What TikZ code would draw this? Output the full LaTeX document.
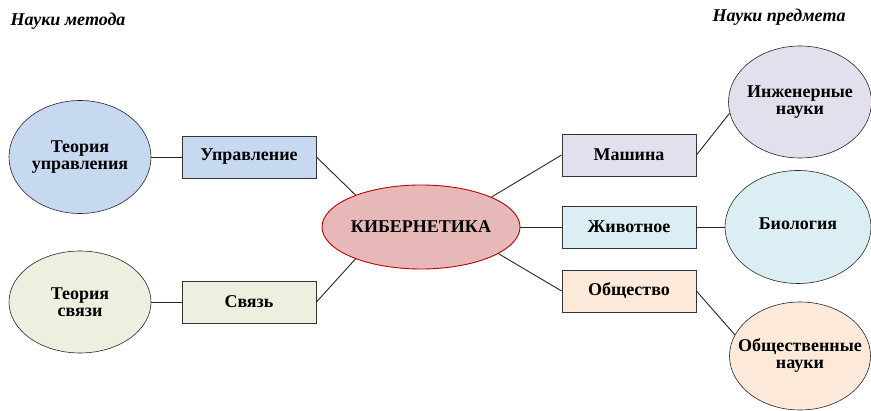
\documentclass[tikz,border=0pt]{standalone}
\usepackage{fontspec}
\setmainfont{Liberation Serif}
\usetikzlibrary{shapes.geometric}

\definecolor{blueF}{HTML}{C6D9F1}
\definecolor{greenF}{HTML}{EBF1DE}
\definecolor{redF}{HTML}{E6B9B8}
\definecolor{redD}{HTML}{C00000}
\definecolor{lilacF}{HTML}{E4DFEC}
\definecolor{aquaF}{HTML}{DAEEF3}
\definecolor{peachF}{HTML}{FDE9D9}

\begin{document}
\begin{tikzpicture}[x=1pt,y=-1pt,
    every node/.style={font=\fontsize{18}{17}\selectfont\bfseries, align=center},
    box/.style={draw=black!80, line width=0.9pt, minimum width=134pt, minimum height=42pt, inner sep=0pt},
    oval/.style={ellipse, draw=black!85, line width=0.6pt, inner sep=0pt},
    title/.style={font=\fontsize{18}{17}\selectfont\bfseries\itshape, anchor=west},
    link/.style={line width=0.9pt, black!85}]
    \useasboundingbox (0,0) rectangle (871,411);

    % Method sciences
    \node[title] (tmet) at (7,21) {Науки метода};
    \node[oval, fill=blueF, minimum width=142pt, minimum height=113pt,
          label={center:{Теория\\управления}}] (tu) at (80,157) {};
    \node[oval, fill=greenF, minimum width=142pt, minimum height=102pt,
          label={center:{Теория\\связи}}] (ts) at (80,302) {};
    \node[box, fill=blueF] (upr) at (249,157) {Управление};
    \node[box, fill=greenF] (sv) at (249,302) {Связь};

    % Centre
    \node[ellipse, draw=redD, line width=0.9pt, fill=redF, minimum width=197pt, minimum height=84pt, inner sep=0pt] (kib) at (421,227) {КИБЕРНЕТИКА};

    % Subject sciences
    \node[title] (tpred) at (709,17) {Науки предмета};
    \node[box, fill=lilacF] (mash) at (629,155) {Машина};
    \node[box, fill=aquaF] (ziv) at (629,227) {Животное};
    \node[box, fill=peachF] (obs) at (629,291) {Общество};
    \node[oval, fill=lilacF, minimum width=143pt, minimum height=112pt,
          label={center:{Инженерные\\науки}}] (inz) at (800,102) {};
    \node[oval, fill=aquaF, minimum width=146pt, minimum height=113pt,
          label={[yshift=3pt]center:Биология}] (bio) at (798,227) {};
    \node[oval, fill=peachF, minimum width=141pt, minimum height=108pt,
          label={center:{Общественные\\науки}}] (obn) at (800,356) {};

    \foreach \a/\b in {tu.east/upr.west, ts.east/sv.west, upr.east/kib.154, sv.east/kib.206,
                      kib.23/mash.west, kib.east/ziv.west, kib.341/obs.west,
                      mash.east/inz.189, ziv.east/bio.west, obs.east/obn.162}
      \draw[link] (\a) -- (\b);

  \end{tikzpicture}
\end{document}
